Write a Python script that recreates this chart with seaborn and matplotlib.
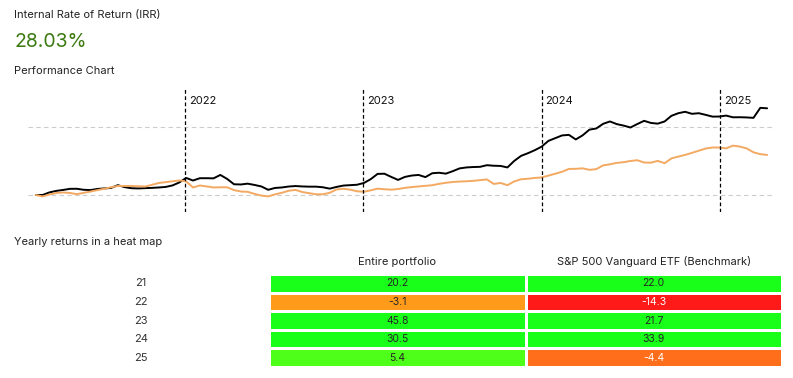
import numpy as np
import pandas as pd
import matplotlib.pyplot as plt
import seaborn as sns
from matplotlib.colors import LinearSegmentedColormap

# cumulative return in %, sampled every two weeks from March 2021
start_date = "2021-03-01"
portfolio = [0, 0, 3.8, 6.0, 7.4, 9.0, 9.1, 7.6, 7.2, 8.8, 9.6, 10.3, 14.4, 11.5, 9.9, 9.6,
             10.0, 10.4, 11.0, 11.8, 14.0, 18.4, 25.0, 21.2, 24.6, 24.6, 24.4, 29.4, 23.5, 15.7,
             15.4, 16.6, 14.7, 12.5, 7.6, 10.3, 11.0, 12.4, 13.1, 12.5, 12.2, 12.2, 11.3, 9.3,
             11.8, 13.8, 14.4, 15.0, 17.6, 23.2, 30.9, 31.2, 26.5, 22.1, 26.5, 28.5, 29.4, 26.2,
             31.9, 32.6, 31.3, 34.9, 39.0, 40.4, 41.0, 41.3, 43.7, 42.9, 42.6, 40.4, 50.0, 57.4,
             61.3, 65.7, 70.9, 79.4, 83.4, 87.4, 88.2, 81.5, 87.5, 95.9, 97.6, 104.4, 107.9, 104.0,
             101.8, 99.0, 104.1, 108.8, 105.7, 104.7, 107.9, 116.2, 120.0, 122.1, 119.1, 120.0,
             117.6, 115.0, 115.1, 116.5, 114.0, 114.1, 113.8, 113.2, 127.9, 127.2]
benchmark = [0, -2.2, 0.7, 2.9, 3.7, 2.9, 1.2, 3.1, 5.0, 7.1, 9.1, 11.3, 13.2, 13.2, 13.2, 12.8,
             12.4, 14.9, 17.6, 18.8, 20.1, 21.3, 20.0, 11.0, 13.9, 12.5, 11.0, 11.3, 11.3, 7.1,
             5.1, 4.6, 1.6, -0.9, -2.1, 0.9, 3.2, 6.2, 7.4, 4.3, 2.6, 1.0, 1.0, 3.2, 8.1, 9.1,
             7.8, 5.4, 4.7, 6.8, 9.3, 8.4, 7.8, 8.7, 10.4, 11.6, 12.5, 13.4, 14.3, 16.3, 17.9,
             19.0, 19.7, 20.1, 20.7, 21.8, 22.8, 16.2, 17.6, 14.4, 19.9, 23.1, 23.8, 25.0, 25.7,
             28.4, 31.2, 34.1, 38.2, 38.4, 39.1, 36.9, 37.9, 43.4, 45.0, 47.1, 48.1, 49.9, 51.0,
             47.6, 47.4, 50.0, 46.6, 53.7, 56.3, 58.8, 61.8, 65.0, 68.1, 69.7, 69.6, 68.4, 72.4,
             71.0, 68.4, 62.6, 59.9, 58.8]
year_starts = ["2022", "2023", "2024", "2025"]

# heat map
years = ["21", "22", "23", "24", "25"]
columns = ["Entire portfolio", "S&P 500 Vanguard ETF (Benchmark)"]
entire_returns = [20.2, -3.1, 45.8, 30.5, 5.4]
bench_returns = [22.0, -14.3, 21.7, 33.9, -4.4]
irr = "28.03%"

dates = pd.date_range(start_date, periods=len(portfolio), freq="14D")

sns.set_style("white")
plt.rcParams['font.family'] = ['Inter', 'DejaVu Sans']

fig = plt.figure(figsize=(7.93, 3.78), dpi=100)

fig.text(14 / 793, 1 - 15 / 378, "Internal Rate of Return (IRR)", fontsize=8, color='#222222', va='center')
fig.text(14 / 793, 1 - 42 / 378, irr, fontsize=14, color='#3b7a10', va='center')
fig.text(14 / 793, 1 - 71 / 378, "Performance Chart", fontsize=8, color='#222222', va='center')
fig.text(14 / 793, 1 - 242 / 378, "Yearly returns in a heat map", fontsize=8, color='#222222', va='center')

# performance chart
ax = fig.add_axes([28 / 793, 1 - 212 / 378, 745 / 793, 124 / 378])
sns.lineplot(x=dates, y=portfolio, ax=ax, color='black', linewidth=1.4)
sns.lineplot(x=dates, y=benchmark, ax=ax, color='#f3a962', linewidth=1.4)
ax.set_xlim(pd.Timestamp("2021-02-13"), pd.Timestamp("2025-04-19"))
ax.set_ylim(-25, 157)
for v in [0, 100]:
    ax.axhline(v, color='#cccccc', linestyle=(0, (4, 3)), linewidth=0.8, zorder=0)
for y in year_starts:
    d = pd.Timestamp(y + "-01-01")
    ax.axvline(d, color='black', linestyle=(0, (3, 2)), linewidth=0.9)
    ax.text(d + pd.Timedelta(days=8), 138, y, fontsize=8, color='#111111', va='center')
ax.set_xticks([])
ax.set_yticks([])
ax.set_xlabel("")
ax.set_ylabel("")
sns.despine(ax=ax, left=True, bottom=True)

# heat map
hm = pd.DataFrame({columns[0]: entire_returns, columns[1]: bench_returns}, index=years)
cmap = LinearSegmentedColormap.from_list("rg", ["#ff1a1a", "#ffff1a", "#1aff1a"])
ax2 = fig.add_axes([269 / 793, 1 - 367 / 378, 513 / 793, 93 / 378])
sns.heatmap(hm, ax=ax2, cmap=cmap, vmin=-7, vmax=7, annot=True, fmt=".1f", cbar=False,
            linewidths=0.8, linecolor='white', annot_kws={'fontsize': 7.5})
ax2.xaxis.tick_top()
ax2.tick_params(axis='x', length=0, pad=5, labelsize=8, labelcolor='#222222')
ax2.tick_params(axis='y', length=0, pad=92, labelsize=8, labelcolor='#333333')
plt.setp(ax2.get_yticklabels(), rotation=0, ha='center')
plt.setp(ax2.get_xticklabels(), rotation=0)
ax2.set_xlabel("")
ax2.set_ylabel("")

fig.savefig("out.png", dpi=100)
